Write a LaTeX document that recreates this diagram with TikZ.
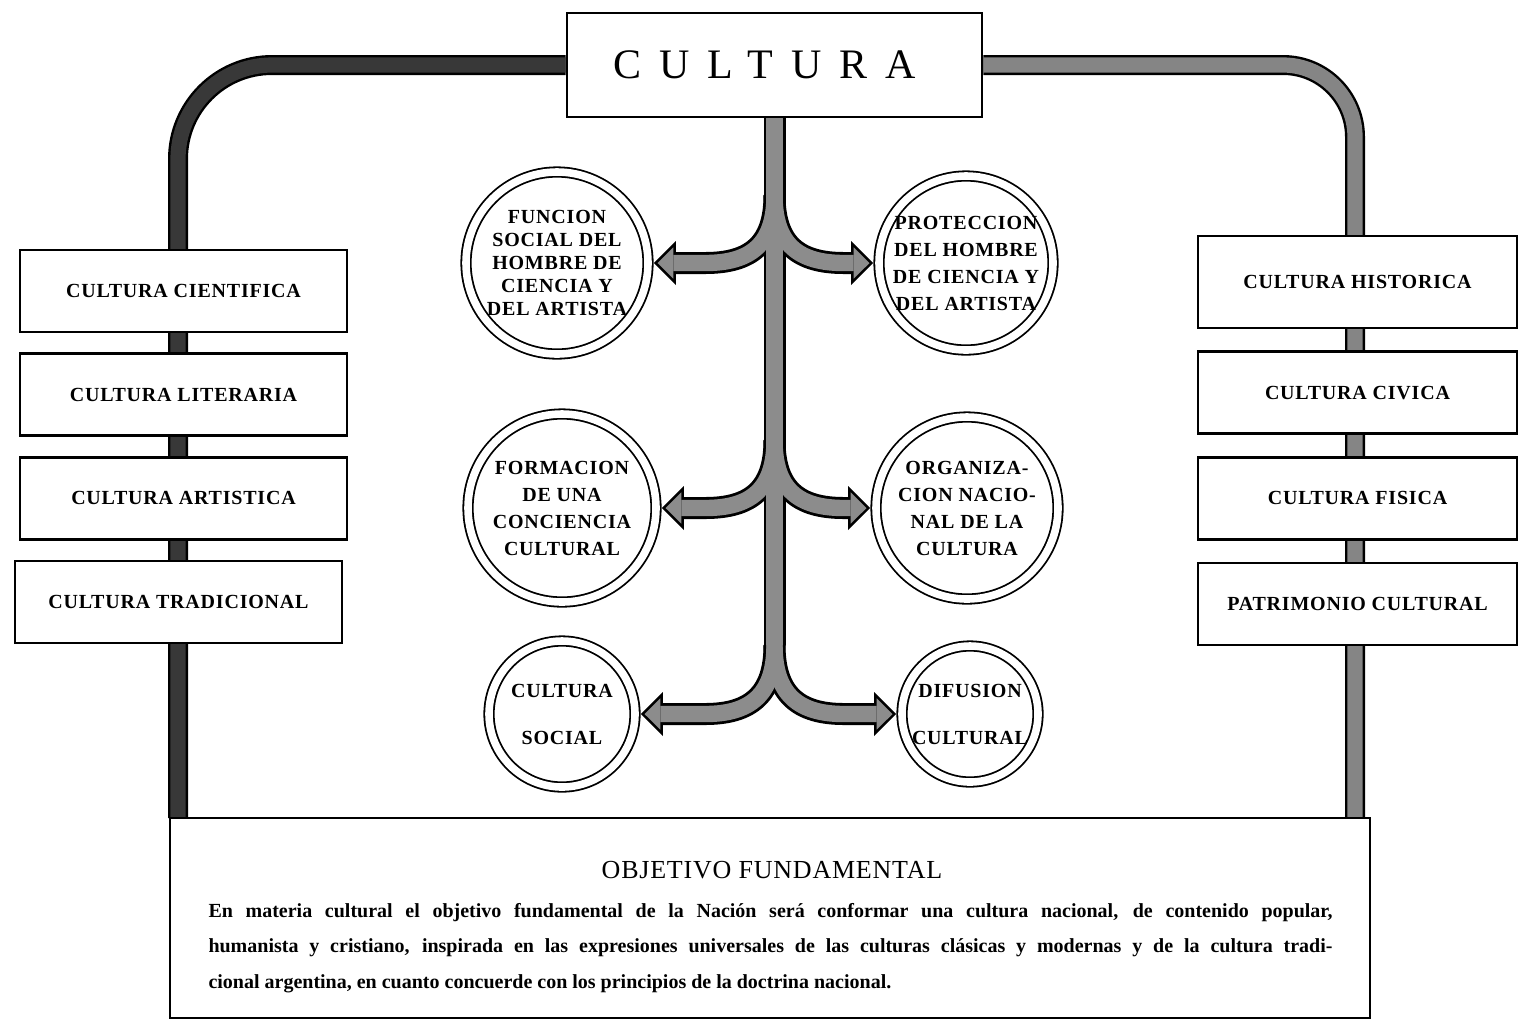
\documentclass[tikz,border=0pt]{standalone}
\usepackage{fontspec}
\setmainfont{Liberation Serif}
\usepackage{tikz}
\usetikzlibrary{arrows.meta,calc,positioning}
\definecolor{raildark}{gray}{0.22}
\definecolor{raillight}{gray}{0.52}
\definecolor{shaftgray}{gray}{0.55}
\tikzstyle{head} = [rectangle, draw=black, line width=1.3pt, fill=white, minimum width=207.5pt, minimum height=52pt, font=\fontsize{21}{24}\selectfont\addfontfeature{LetterSpace=43}]
\tikzstyle{area} = [rectangle, draw=black, line width=1.3pt, fill=white, minimum width=163.5pt, minimum height=41pt, text centered, font=\fontsize{10}{12}\selectfont\bfseries\addfontfeature{LetterSpace=4}]
\tikzstyle{ring} = [circle, draw=black, line width=0.9pt, double=white, double distance=3.8pt, inner sep=0pt, align=center, font=\fontsize{10}{13.5}\selectfont\bfseries\addfontfeature{LetterSpace=4}]
\tikzstyle{tight} = [font=\fontsize{10}{11.5}\selectfont\bfseries\addfontfeature{LetterSpace=4}]
\tikzstyle{goal} = [rectangle, draw=black, line width=1.4pt, fill=white, minimum width=600pt, minimum height=100pt]
\tikzstyle{railout} = [line width=10pt, black]
\tikzstyle{railin} = [line width=7.6pt]
\tikzstyle{stemout} = [line width=11pt, black]
\tikzstyle{stemin} = [line width=8.2pt, shaftgray]
\tikzstyle{arrowout} = [stemout, shorten >=2.5pt, -{Triangle[length=11pt, width=22pt, line width=0pt]}]
\tikzstyle{arrowin} = [stemin, shorten >=4.3pt, -{Triangle[length=7.9pt, width=15.7pt, line width=0pt]}]
\begin{document}
\begin{tikzpicture}[x=0.5pt, y=-0.5pt]
\useasboundingbox (0,0) rectangle (1519,1025);

\node (cultura) [head] at (774.5,65) {CULTURA\hspace*{10pt}};
\coordinate (lfoot) at (178,818);
\coordinate (rfoot) at (1355,818);

\draw [railout, rounded corners=47pt] (cultura.west) -| (lfoot);
\draw [railin, raildark, rounded corners=47pt] (cultura.west) -| (lfoot);
\draw [railout, rounded corners=36pt] (cultura.east) -| (rfoot);
\draw [railin, raillight, rounded corners=36pt] (cultura.east) -| (rfoot);

\node (cie) [area] at (183.5,291) {CULTURA CIENTIFICA};
\node (lit) [area, below=9.5pt of cie] {CULTURA LITERARIA};
\node (art) [area, below=9.5pt of lit] {CULTURA ARTISTICA};
\node (tra) [area, below=9.5pt of art, xshift=-2.5pt] {CULTURA TRADICIONAL};

\node (his) [area, minimum width=159.5pt, minimum height=46pt] at (1357.5,282) {CULTURA HISTORICA};
\node (civ) [area, minimum width=159.5pt, below=10.5pt of his] {CULTURA CIVICA};
\node (fis) [area, minimum width=159.5pt, below=10.5pt of civ] {CULTURA FISICA};
\node (pat) [area, minimum width=159.5pt, below=10.5pt of fis] {PATRIMONIO CULTURAL};

\node (objetivo) [goal] at (770,918) {};
\node (objtitle) [font=\fontsize{13}{15}\selectfont\addfontfeature{LetterSpace=3}] at (772,870) {OBJETIVO FUNDAMENTAL};
\node (objtext) [text width=562pt, align=justify, inner sep=0pt, font=\fontsize{10}{17.75}\selectfont\bfseries] at (770.5,948) {En materia cultural el objetivo fundamental de la Nación será conformar una cultura nacional, de contenido popular,\linebreak humanista y cristiano, inspirada en las expresiones universales de las culturas clásicas y modernas y de la cultura tradi-\linebreak cional argentina, en cuanto concuerde con los principios de la doctrina nacional.};

\node (funcion) [ring, tight, minimum size=91pt] at (557,263) {FUNCION\\SOCIAL DEL\\HOMBRE DE\\CIENCIA Y\\DEL ARTISTA};
\node (proteccion) [ring, minimum size=87pt] at (966,263) {PROTECCION\\DEL HOMBRE\\DE CIENCIA Y\\DEL ARTISTA};
\node (formacion) [ring, minimum size=94pt] at (562,508) {FORMACION\\DE UNA\\CONCIENCIA\\CULTURAL};
\node (organiz) [ring, minimum size=91pt] at (967,508) {ORGANIZA-\\CION NACIO-\\NAL DE LA\\CULTURA};
\node (social) [ring, minimum size=73pt] at (562,714) {CULTURA\\[10pt]SOCIAL};
\node (difusion) [ring, minimum size=68pt] at (970,714) {DIFUSION\\[10pt]CULTURAL};

\coordinate (f1) at (cultura.south |- 0,195);
\coordinate (f2) at (cultura.south |- 0,440);
\coordinate (f3) at (cultura.south |- 0,645);
\coordinate (k1l) at (705,263);
\coordinate (k2l) at (705,508);
\coordinate (k3l) at (705,714);
\coordinate (k1r) at (844,263);
\coordinate (k2r) at (844,508);
\coordinate (k3r) at (844,714);

\draw [stemout] (cultura.south) -- (f3);
\foreach \f/\k/\c in {f1/k1l/funcion, f2/k2l/formacion, f3/k3l/social}
  \draw [arrowout] (\f) .. controls +(0,50) and +(45,0) .. (\k) -- (\c.east);
\foreach \f/\k/\c in {f1/k1r/proteccion, f2/k2r/organiz, f3/k3r/difusion}
  \draw [arrowout] (\f) .. controls +(0,50) and +(-45,0) .. (\k) -- (\c.west);

\draw [stemin] (cultura.south) -- (f3);
\foreach \f/\k/\c in {f1/k1l/funcion, f2/k2l/formacion, f3/k3l/social}
  \draw [arrowin] (\f) .. controls +(0,50) and +(45,0) .. (\k) -- (\c.east);
\foreach \f/\k/\c in {f1/k1r/proteccion, f2/k2r/organiz, f3/k3r/difusion}
  \draw [arrowin] (\f) .. controls +(0,50) and +(-45,0) .. (\k) -- (\c.west);

\end{tikzpicture}
\end{document}
